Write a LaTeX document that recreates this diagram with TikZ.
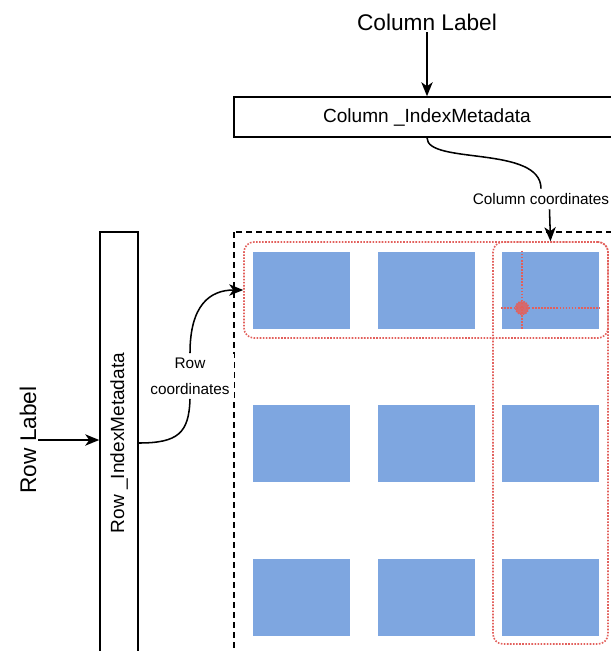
\documentclass[tikz,border=0pt]{standalone}
\usepackage{fontspec}
\setmainfont{Liberation Sans}
\usetikzlibrary{arrows.meta}
\definecolor{cellblue}{RGB}{126,166,224}
\definecolor{groupred}{RGB}{226,96,92}
\tikzset{every picture/.style={line width=1.15pt}}
\tikzset{
  metabox/.style={draw, inner sep=0pt, font=\fontsize{14.3}{17}\selectfont},
  bigtext/.style={inner sep=0.75pt, font=\fontsize{17}{20}\selectfont},
  smalltext/.style={inner sep=3pt, fill=white, align=center, font=\fontsize{11.5}{13.8}\selectfont},
  cell/.style={fill=cellblue, inner sep=0pt, minimum width=72.75pt, minimum height=57.75pt},
  group/.style={draw=groupred, line width=1.2pt, dash pattern=on 1.2pt off 1.1pt, rounded corners=7.5pt, inner sep=0pt},
  guide/.style={draw=groupred, line width=1.2pt, dash pattern=on 1.2pt off 1.1pt},
  link/.style={-{Stealth[length=10.5pt,width=8.5pt,inset=3pt]}}
}

\begin{document}
\begin{tikzpicture}[x=0.75pt,y=0.75pt,yscale=-1,xscale=1]
\useasboundingbox (0,0) rectangle (611,651);

%Shape: Rectangle (dashed frame)
\draw [line width=1.4pt, dash pattern=on 4.5pt off 3pt] (234,232) rectangle (640,680);

%Shape: Blue cells
\foreach \r/\y in {1/290,2/443.5,3/597}
  \foreach \c/\x in {1/301.5,2/426.5,3/550.5}
    \node (cell\r\c) [cell] at (\x,\y) {};

%Shape: Row and column groups
\node (rowgroup) [group, minimum width=273pt, minimum height=72pt] at (426,290) {};
\node (colgroup) [group, minimum width=86.25pt, minimum height=301.5pt] at (550.5,443) {};

%Shape: Point in the cell
\coordinate (pt) at (522,308);
\draw [guide] (cell13.north -| pt) -- (cell13.south -| pt);
\draw [guide] (cell13.west |- pt) -- (cell13.east |- pt);
\filldraw [draw=groupred, fill=groupred, fill opacity=0.85, line width=1pt, dash pattern=on 1pt off 1pt] (pt) circle (4.9pt);

% Text Node
\node (collabel) [bigtext] at (427,22) {Column Label};
% Text Node
\node (colbox) [metabox, minimum width=289.5pt, minimum height=30pt] at (427,117) {Column \_IndexMetadata};
% Text Node
\node (rowlabel) [bigtext, rotate=90] at (28,440) {Row Label};
% Text Node
\node (rowbox) [metabox, minimum width=28.5pt, minimum height=316.5pt] at (119,443) {\rotatebox{90}{Row \_IndexMetadata}};
% Text Node
\node (colcoord) [smalltext] at (541,199) {Column coordinates};
% Text Node
\node (rowcoord) [smalltext] at (190,376) {Row\\[5.5pt]coordinates};

%Curve Lines
\draw [link] (collabel) -- (colbox.north);
\draw (colbox.south) .. controls (427,165) and (541,145) .. (colcoord.north);
\draw [link] ([xshift=-0.75pt]colcoord.south -| colgroup.north) -- (colgroup.north);
\draw [link] (rowlabel) -- (rowbox.west |- rowlabel);
\draw (rowbox.east) .. controls (178,443) and (189,433) .. (rowcoord.south);
\draw [link] (rowcoord.north) .. controls (190,305) and (210,290) .. (rowgroup.west);

\end{tikzpicture}
\end{document}
